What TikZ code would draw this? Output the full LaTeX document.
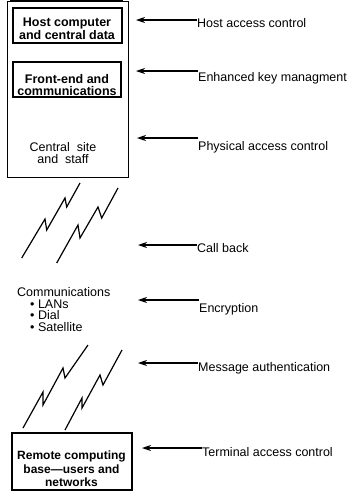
\documentclass[tikz,border=0pt]{standalone}
\usepackage{fontspec}
\setmainfont{Liberation Sans}
\usetikzlibrary{arrows.meta,positioning}
\newcommand{\gap}{\hspace{7pt}}

\begin{document}
\begin{tikzpicture}[x=1pt,y=-1pt,
    every node/.style={inner sep=0pt,font=\fontsize{12.5}{11.5}\selectfont},
    boxtxt/.style={align=center,font=\fontsize{12.5}{11.5}\selectfont\bfseries},
    frame/.style={draw,line width=1.4pt},
    lbl/.style={anchor=base west},
    arr/.style={-{Stealth[length=9pt,width=6pt]},line width=1.1pt},
    zig/.style={line width=1.2pt,line join=miter}]
  \useasboundingbox (0,0) rectangle (355,491);

  % central site
  \node (site) [draw,line width=1pt,minimum width=121,minimum height=176] at (67.5,89) {};
  \draw [line width=2.5pt] (10,1) -- (123,1);
  \node (host) [frame,minimum width=109,minimum height=35] at (67.5,25.5) {};
  \node (hosttxt) [boxtxt] at (67,29) {Host computer\\and central data};
  \node (frontend) [frame,minimum width=108,minimum height=35] at (67,79.5) {};
  \node (frontendtxt) [boxtxt] at (67,85) {Front-end and\\communications};
  \node (central) [align=center] at (63,153) {Central\gap site\\and\gap staff};

  % links
  \draw [zig] (21.7,258) -- (45,219) -- (46.7,230) -- (65,198) -- (66.7,207) -- (80,183);
  \draw [zig] (56.7,263) -- (78,225) -- (80,238) -- (98,207) -- (101.7,218) -- (118,188);

  \node (comms) [align=left,anchor=north west] at (17,287.5)
    {Communications\\\hspace{13pt}\textbullet\ LANs\\\hspace{13pt}\textbullet\ Dial\\\hspace{13pt}\textbullet\ Satellite};

  \draw [zig] (23,428) -- (43,392) -- (43,405) -- (63,368) -- (65,378) -- (88,345);
  \draw [zig] (65,430) -- (82,398) -- (82,408) -- (100,375) -- (103,385) -- (122,350);

  % remote site
  \node (remote) [draw,line width=1.2pt,minimum width=120,minimum height=57] at (72,461.5) {};
  \node (remotetxt) [boxtxt,font=\fontsize{12}{13.5}\selectfont\bfseries] at (71.5,469) {Remote computing\\base---users and\\networks};

  % controls
  \node (hostlbl) [lbl] at (197,27) {Host access control};
  \node (keylbl) [lbl] at (198,81) {Enhanced key managment};
  \node (physlbl) [lbl] at (198,150) {Physical access control};
  \node (calllbl) [lbl] at (197,252) {Call back};
  \node (encrlbl) [lbl] at (199,312) {Encryption};
  \node (msglbl) [lbl] at (198,371) {Message authentication};
  \node (termlbl) [lbl] at (202,456) {Terminal access control};

  \coordinate (hosttip) at (136,20);
  \coordinate (keytip) at (136,71);
  \coordinate (physip) at (137,138);
  \coordinate (calltip) at (138,245);
  \coordinate (encrtip) at (138,300);
  \coordinate (msgtip) at (138,363);
  \coordinate (termtip) at (142,448);

  \draw [arr] (hostlbl.west |- hosttip) -- (hosttip);
  \draw [arr] (keylbl.west |- keytip) -- (keytip);
  \draw [arr] (physlbl.west |- physip) -- (physip);
  \draw [arr] (calllbl.west |- calltip) -- (calltip);
  \draw [arr] (encrlbl.west |- encrtip) -- (encrtip);
  \draw [arr] (msglbl.west |- msgtip) -- (msgtip);
  \draw [arr] (termlbl.west |- termtip) -- (termtip);

\end{tikzpicture}
\end{document}
